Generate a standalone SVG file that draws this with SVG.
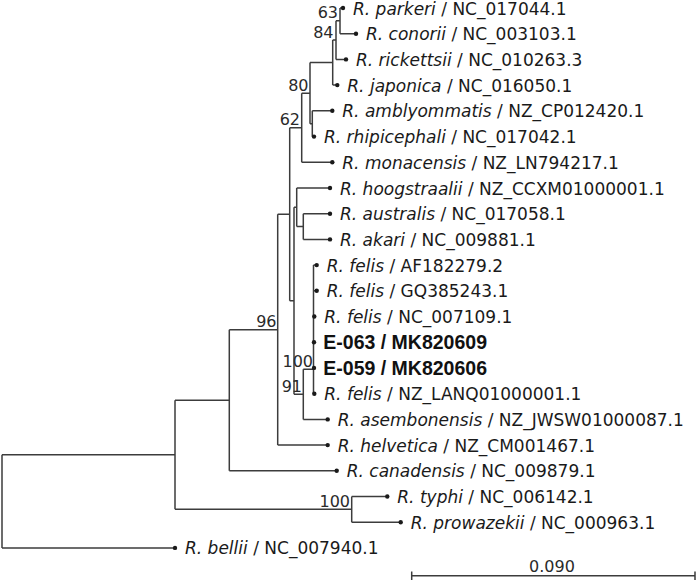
<svg xmlns="http://www.w3.org/2000/svg" width="696" height="583" viewBox="0 0 696 583">
<style>
.br{fill:none;stroke:#3c3c3c;stroke-width:1.5}
.dot{fill:#1a1a1a}
.lab{font-family:"DejaVu Sans",sans-serif;font-size:17px;fill:#1a1a1a}
.it{font-style:italic}
.bold{font-family:"Liberation Sans",Arial,sans-serif;font-size:19.5px;font-weight:bold;fill:#111}
.sup{font-family:"DejaVu Sans",sans-serif;font-size:16px;fill:#2a2a2a;text-anchor:end}
</style>
<rect width="696" height="583" fill="#fff"/>
<g id="connectors" class="br">
<path d="M340,8V33.7M340,8H343M340,33.7H356"/>
<path d="M336,20.85V59.4M336,20.85H340M336,59.4H346"/>
<path d="M332.7,40.1V85.1M332.7,40.1H336M332.7,85.1H337.3"/>
<path d="M312.3,110.8V136.6M312.3,110.8H332.3M312.3,136.6H314"/>
<path d="M310,62.6V123.7M310,62.6H332.7M310,123.7H312.3"/>
<path d="M301.7,93.15V162.3M301.7,93.15H310M301.7,162.3H332.3"/>
<path d="M303.3,213.7V239.4M303.3,213.7H330M303.3,239.4H330"/>
<path d="M296.7,188V226.55M296.7,188H330M296.7,226.55H303.3"/>
<path d="M313.5,265.1V393.7M313.5,265.1H316.7M313.5,290.8H316.7M313.5,316.5H314.3M313.5,342.2H314M313.5,367.9H314M313.5,393.7H314.3"/>
<path d="M303.3,369.2V419.4M303.3,369.2H313.5M303.3,419.4H327.7"/>
<path d="M294,207.3V394.3M294,207.3H296.7M294,394.3H303.3"/>
<path d="M289.7,127.7V300.8M289.7,127.7H301.7M289.7,300.8H294"/>
<path d="M277.7,214.25V445.1M277.7,214.25H289.7M277.7,445.1H327.7"/>
<path d="M229.3,329.7V470.8M229.3,329.7H277.7M229.3,470.8H336.7"/>
<path d="M351.7,496.5V522.2M351.7,496.5H387.3M351.7,522.2H400.7"/>
<path d="M175,400.25V509.35M175,400.25H229.3M175,509.35H351.7"/>
<path d="M2,454.8V547.9M2,454.8H175M2,547.9H175"/>
</g>
<g id="supports">
<text class="sup" x="338" y="18">63</text>
<text class="sup" x="333.5" y="38">84</text>
<text class="sup" x="308.5" y="91">80</text>
<text class="sup" x="300" y="125">62</text>
<text class="sup" x="276.5" y="327">96</text>
<text class="sup" x="313" y="367">100</text>
<text class="sup" x="302" y="392">91</text>
<text class="sup" x="350" y="507">100</text>
</g>
<g id="n-parkeri"><circle class="dot" cx="343" cy="8" r="2.2"/><text class="lab" x="353" y="15">  <tspan class="it">R. parkeri</tspan> / NC_017044.1</text></g>
<g id="n-conorii"><circle class="dot" cx="356" cy="33.7" r="2.2"/><text class="lab" x="366" y="40.2"><tspan class="it">R. conorii</tspan> / NC_003103.1</text></g>
<g id="n-rickettsii"><circle class="dot" cx="346" cy="59.4" r="2.2"/><text class="lab" x="356" y="65.9"><tspan class="it">R. rickettsii</tspan> / NC_010263.3</text></g>
<g id="n-japonica"><circle class="dot" cx="337.3" cy="85.1" r="2.2"/><text class="lab" x="347.3" y="91.6"><tspan class="it">R. japonica</tspan> / NC_016050.1</text></g>
<g id="n-amblyommatis"><circle class="dot" cx="332.3" cy="110.8" r="2.2"/><text class="lab" x="342.3" y="117.3"><tspan class="it">R. amblyommatis</tspan>  / NZ_CP012420.1</text></g>
<g id="n-rhipicephali"><circle class="dot" cx="314" cy="136.6" r="2.2"/><text class="lab" x="324" y="143.1"><tspan class="it">R. rhipicephali</tspan> / NC_017042.1</text></g>
<g id="n-monacensis"><circle class="dot" cx="332.3" cy="162.3" r="2.2"/><text class="lab" x="342.3" y="168.8"><tspan class="it">R. monacensis</tspan> / NZ_LN794217.1</text></g>
<g id="n-hoogstraalii"><circle class="dot" cx="330" cy="188" r="2.2"/><text class="lab" x="340" y="194.5"><tspan class="it">R. hoogstraalii</tspan> / NZ_CCXM01000001.1</text></g>
<g id="n-australis"><circle class="dot" cx="330" cy="213.7" r="2.2"/><text class="lab" x="340" y="220.2"><tspan class="it">R. australis</tspan> / NC_017058.1</text></g>
<g id="n-akari"><circle class="dot" cx="330" cy="239.4" r="2.2"/><text class="lab" x="340" y="245.9"><tspan class="it">R. akari</tspan> / NC_009881.1</text></g>
<g id="n-felis1"><circle class="dot" cx="316.7" cy="265.1" r="2.2"/><text class="lab" x="326.7" y="271.6"><tspan class="it">R. felis</tspan> / AF182279.2</text></g>
<g id="n-felis2"><circle class="dot" cx="316.7" cy="290.8" r="2.2"/><text class="lab" x="326.7" y="297.3"><tspan class="it">R. felis</tspan> / GQ385243.1</text></g>
<g id="n-felis3"><circle class="dot" cx="314.3" cy="316.5" r="2.2"/><text class="lab" x="324.3" y="323"><tspan class="it">R. felis</tspan> / NC_007109.1</text></g>
<g id="n-e063"><circle class="dot" cx="314" cy="342.2" r="2.2"/><text class="bold" x="323.3" y="349.4">E-063 / MK820609</text></g>
<g id="n-e059"><circle class="dot" cx="314" cy="367.9" r="2.2"/><text class="bold" x="323.3" y="375.1">E-059 / MK820606</text></g>
<g id="n-felis4"><circle class="dot" cx="314.3" cy="393.7" r="2.2"/><text class="lab" x="324.3" y="400.2"><tspan class="it">R. felis</tspan> / NZ_LANQ01000001.1</text></g>
<g id="n-asembonensis"><circle class="dot" cx="327.7" cy="419.4" r="2.2"/><text class="lab" x="337.7" y="425.9"><tspan class="it">R. asembonensis</tspan> / NZ_JWSW01000087.1</text></g>
<g id="n-helvetica"><circle class="dot" cx="327.7" cy="445.1" r="2.2"/><text class="lab" x="337.7" y="451.6"><tspan class="it">R. helvetica</tspan> / NZ_CM001467.1</text></g>
<g id="n-canadensis"><circle class="dot" cx="336.7" cy="470.8" r="2.2"/><text class="lab" x="346.7" y="477.3"><tspan class="it">R. canadensis</tspan> / NC_009879.1</text></g>
<g id="n-typhi"><circle class="dot" cx="387.3" cy="496.5" r="2.2"/><text class="lab" x="397.3" y="503"><tspan class="it">R. typhi</tspan> / NC_006142.1</text></g>
<g id="n-prowazekii"><circle class="dot" cx="400.7" cy="522.2" r="2.2"/><text class="lab" x="410.7" y="528.7"><tspan class="it">R. prowazekii</tspan> / NC_000963.1</text></g>
<g id="n-bellii"><circle class="dot" cx="175" cy="547.9" r="2.2"/><text class="lab" x="185" y="554.4"><tspan class="it">R. bellii</tspan> / NC_007940.1</text></g>
<g id="scalebar">
<path class="br" d="M411.7,575.7H695M411.7,571.5V580M695,571.5V580"/>
<text class="sup" style="text-anchor:middle" x="552" y="572">0.090</text>
</g>
</svg>
